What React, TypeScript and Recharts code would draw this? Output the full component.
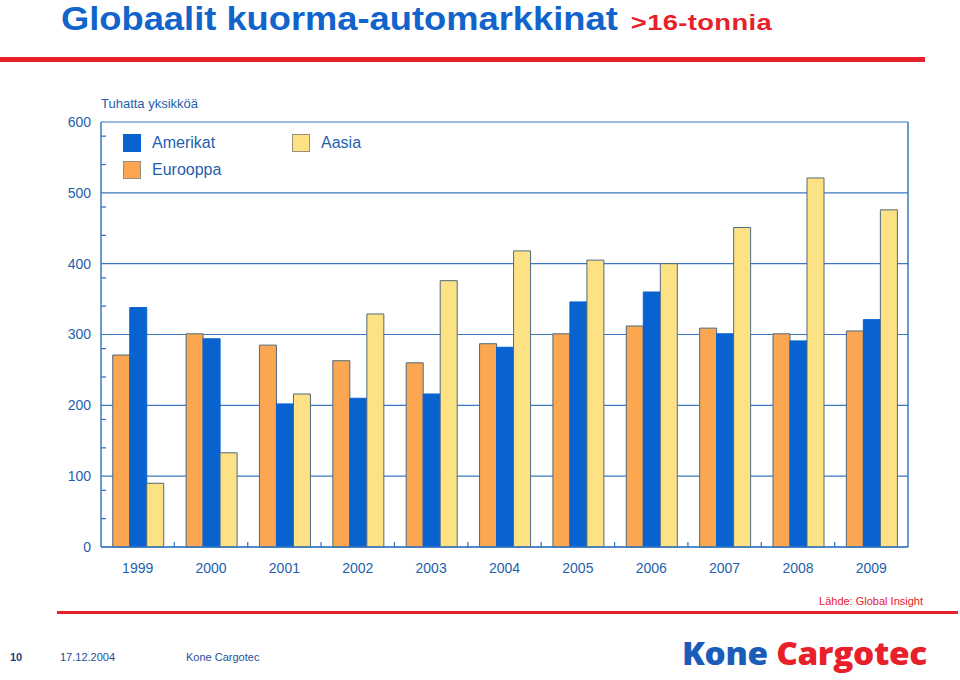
import { BarChart, Bar, XAxis, YAxis, CartesianGrid, Legend } from "recharts"

const years = ["1999", "2000", "2001", "2002", "2003", "2004", "2005", "2006", "2007", "2008", "2009"]
const eurooppa = [271, 301, 285, 263, 260, 287, 301, 312, 309, 301, 305]
const amerikat = [338, 294, 202, 210, 216, 282, 346, 360, 301, 291, 321]
const aasia = [90, 133, 216, 329, 376, 418, 405, 400, 451, 521, 476]
const yTicks = [0, 100, 200, 300, 400, 500, 600]
const yMinorTicks = [
  20, 40, 60, 80, 120, 140, 160, 180, 220, 240, 260, 280, 320, 340, 360, 380,
  420, 440, 460, 480, 520, 540, 560, 580,
]

const data = years.map((year, i) => ({
  year,
  Eurooppa: eurooppa[i],
  Amerikat: amerikat[i],
  Aasia: aasia[i],
}))

const BLUE = "#0862cf"
const ORANGE = "#fba650"
const YELLOW = "#fde285"
const EDGE = "#4f6a7e"
const TEXT = "#1f5fae"
const LINE = "#3a78bf"
const RED = "#e8202a"
const FONT = "'Liberation Sans', Arial, sans-serif"

const TICK_SIZE = 6
const TICK_MARGIN = 10

const legendItems = [
  { name: "Amerikat", color: BLUE, left: 0, top: 0 },
  { name: "Aasia", color: YELLOW, left: 169, top: 0 },
  { name: "Eurooppa", color: ORANGE, left: 0, top: 27 },
]

function ChartLegend() {
  return (
    <div style={{ position: "relative", width: 260, height: 50, fontFamily: FONT }}>
      {legendItems.map((it) => (
        <div
          key={it.name}
          style={{ position: "absolute", left: it.left, top: it.top, display: "flex", alignItems: "center" }}
        >
          <span
            style={{
              display: "inline-block",
              width: 16,
              height: 16,
              background: it.color,
              border: it.color === BLUE ? `1px solid ${BLUE}` : "1px solid #9a8f7a",
            }}
          />
          <span style={{ marginLeft: 11, fontSize: 16, color: TEXT }}>{it.name}</span>
        </div>
      ))}
    </div>
  )
}

// tick marks only, no labels
const NoLabel = () => <g />

// year label + small upward mark on the left edge of each category band
function YearTick(props: any) {
  const { x, y, payload, index, width, visibleTicksCount } = props
  const half = payload?.offset || width / visibleTicksCount / 2
  const axisY = y - TICK_SIZE - TICK_MARGIN
  return (
    <g>
      {index > 0 && (
        <line x1={x - half} x2={x - half} y1={axisY} y2={axisY - 5} stroke={LINE} strokeWidth={1.3} />
      )}
      <text x={x} y={y} dy="0.71em" textAnchor="middle" fontSize={14} fill={TEXT} fontFamily={FONT}>
        {payload.value}
      </text>
    </g>
  )
}

export default function App() {
  return (
    <div style={{ position: "fixed", left: 0, top: 0, width: 960, height: 680, background: "#fff", fontFamily: FONT }}>
      <div
        style={{
          position: "absolute",
          left: 61,
          top: 0,
          whiteSpace: "nowrap",
          transform: "scaleX(1.1)",
          transformOrigin: "left top",
        }}
      >
        <span style={{ fontSize: 33, fontWeight: 700, color: "#1164cc" }}>Globaalit kuorma-automarkkinat</span>
        <span
          style={{
            display: "inline-block",
            fontSize: 22,
            fontWeight: 700,
            color: RED,
            marginLeft: 12,
            letterSpacing: 0.3,
            transform: "scaleX(1.13)",
            transformOrigin: "left",
          }}
        >
          &gt;16-tonnia
        </span>
      </div>
      <div style={{ position: "absolute", left: 0, top: 57, width: 925, height: 5, background: RED }} />
      <div style={{ position: "absolute", left: 101, top: 96, fontSize: 13, color: TEXT }}>Tuhatta yksikköä</div>

      <div style={{ position: "absolute", left: 0, top: 0 }}>
        <BarChart
          width={960}
          height={600}
          data={data}
          margin={{ top: 122, right: 52, left: 61, bottom: 23 }}
          barCategoryGap="16%"
          barGap={0}
        >
          <CartesianGrid vertical={false} stroke={LINE} strokeWidth={1.2} />
          <XAxis
            dataKey="year"
            height={30}
            tickLine={false}
            tickSize={TICK_SIZE}
            tickMargin={TICK_MARGIN}
            axisLine={{ stroke: LINE, strokeWidth: 1.5 }}
            tick={<YearTick />}
            interval={0}
          />
          <YAxis
            domain={[0, 600]}
            ticks={yTicks}
            width={40}
            tickLine={false}
            tickMargin={4}
            axisLine={{ stroke: LINE, strokeWidth: 1.5 }}
            tick={{ fontSize: 14, fill: TEXT, fontFamily: FONT }}
          />
          <YAxis
            yAxisId="minor"
            domain={[0, 600]}
            allowDataOverflow
            ticks={yMinorTicks}
            mirror
            width={10}
            tick={<NoLabel />}
            tickSize={5}
            axisLine={false}
            tickLine={{ stroke: LINE, strokeWidth: 1.3 }}
          />
          <YAxis
            yAxisId="frame"
            orientation="right"
            mirror
            domain={[0, 600]}
            width={10}
            tick={false}
            tickLine={false}
            axisLine={{ stroke: LINE, strokeWidth: 1.5 }}
          />
          <Legend
            layout="horizontal"
            verticalAlign="middle"
            content={<ChartLegend />}
            wrapperStyle={{ left: 123, top: 134, width: 260, height: 50 }}
          />
          <Bar dataKey="Eurooppa" fill={ORANGE} stroke={EDGE} strokeWidth={1} isAnimationActive={false} />
          <Bar dataKey="Amerikat" fill={BLUE} stroke={BLUE} strokeWidth={1} isAnimationActive={false} />
          <Bar dataKey="Aasia" fill={YELLOW} stroke={EDGE} strokeWidth={1} isAnimationActive={false} />
        </BarChart>
      </div>

      <div style={{ position: "absolute", right: 37, top: 595, fontSize: 11, color: RED }}>Lähde: Global Insight</div>
      <div style={{ position: "absolute", left: 57, top: 611, width: 901, height: 3, background: RED }} />
      <div style={{ position: "absolute", left: 10, top: 651, fontSize: 11, fontWeight: 700, color: "#1d3f7a" }}>10</div>
      <div style={{ position: "absolute", left: 60, top: 651, fontSize: 11, color: "#1d4f9a" }}>17.12.2004</div>
      <div style={{ position: "absolute", left: 186, top: 651, fontSize: 11, color: "#1d4f9a" }}>Kone Cargotec</div>
      <div
        style={{
          position: "absolute",
          left: 682,
          top: 637,
          fontSize: 31,
          lineHeight: "32px",
          fontWeight: 800,
          fontFamily: "'Open Sans', sans-serif",
          letterSpacing: -0.3,
          whiteSpace: "nowrap",
          transform: "scaleX(1.075)",
          transformOrigin: "left top",
        }}
      >
        <span style={{ color: "#1a5cb8" }}>Kone</span> <span style={{ color: RED }}>Cargotec</span>
      </div>
    </div>
  )
}
